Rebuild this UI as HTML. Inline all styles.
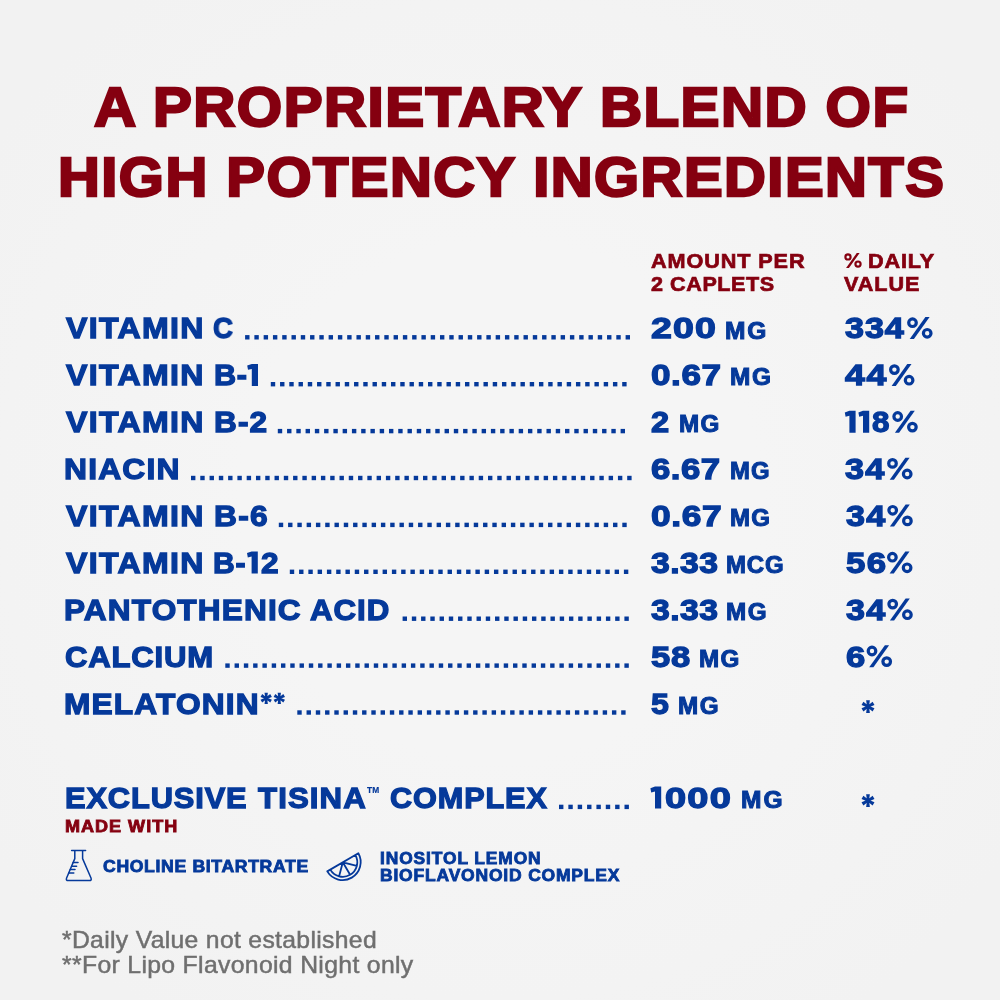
<!DOCTYPE html>
<html><head><meta charset="utf-8"><style>
html,body{margin:0;padding:0;}
body{width:1000px;height:1000px;overflow:hidden;position:relative;background:#f2f2f2 radial-gradient(circle at 500px 500px,#f5f5f5 0px,#f5f5f5 260px,#f2f2f2 620px);font-family:"Liberation Sans",sans-serif;}
.t{position:absolute;white-space:nowrap;line-height:1;transform-origin:0 0;will-change:transform;}
.mk{display:inline-block;width:0;height:0;}
svg{position:absolute;left:0;top:0;}
</style></head><body>
<div class="t" style="left:94.00px;top:79.21px;font-size:56.09px;color:#850010;font-weight:700;letter-spacing:1.374px;transform:scaleX(1.0398);-webkit-text-stroke:2.41px #850010">A PROPRIETARY BLEND OF</div>
<div class="t" style="left:57.92px;top:149.51px;font-size:55.68px;color:#850010;font-weight:700;letter-spacing:1.399px;transform:scaleX(1.0411);-webkit-text-stroke:2.39px #850010">HIGH POTENCY INGREDIENTS</div>
<div class="t" style="left:651.00px;top:250.96px;font-size:20.47px;color:#850010;font-weight:700;letter-spacing:0.840px;transform:scaleX(1.0586);-webkit-text-stroke:0.72px #850010">AMOUNT PER</div>
<div class="t" style="left:651.00px;top:273.64px;font-size:20.75px;color:#850010;font-weight:700;letter-spacing:0.541px;transform:scaleX(1.0395);-webkit-text-stroke:0.73px #850010">2 CAPLETS</div>
<div class="t" style="left:868.34px;top:250.64px;font-size:20.75px;color:#850010;font-weight:700;letter-spacing:0.804px;transform:scaleX(1.0418);-webkit-text-stroke:0.73px #850010">DAILY</div>
<div class="t" style="left:843.96px;top:273.96px;font-size:20.47px;color:#850010;font-weight:700;letter-spacing:0.889px;transform:scaleX(1.0554);-webkit-text-stroke:0.72px #850010">VALUE</div>
<div class="t" style="left:65.90px;top:313.35px;font-size:30.10px;color:#05399a;font-weight:700;letter-spacing:1.236px;transform:scaleX(1.0653);-webkit-text-stroke:1.29px #05399a">VITAMIN</div>
<div class="t" style="left:213.26px;top:313.35px;font-size:30.10px;color:#05399a;font-weight:700;letter-spacing:-0.830px;transform:scaleX(0.9204);-webkit-text-stroke:1.29px #05399a">C</div>
<div class="t" style="left:650.86px;top:313.35px;font-size:30.10px;color:#05399a;font-weight:700;letter-spacing:0.872px;transform:scaleX(1.2469);-webkit-text-stroke:1.29px #05399a">200</div>
<div class="t" style="left:724.91px;top:319.50px;font-size:23.26px;color:#05399a;font-weight:700;letter-spacing:1.850px;transform:scaleX(1.0545);-webkit-text-stroke:1.00px #05399a">MG</div>
<div class="t" style="left:845.43px;top:313.35px;font-size:30.10px;color:#05399a;font-weight:700;letter-spacing:0.766px;transform:scaleX(1.1368);-webkit-text-stroke:1.29px #05399a">334</div>
<div class="t" style="left:65.90px;top:360.26px;font-size:30.10px;color:#05399a;font-weight:700;letter-spacing:1.236px;transform:scaleX(1.0653);-webkit-text-stroke:1.29px #05399a">VITAMIN</div>
<div class="t" style="left:213.79px;top:360.26px;font-size:30.10px;color:#05399a;font-weight:700;letter-spacing:0.540px;transform:scaleX(1.0188);-webkit-text-stroke:1.29px #05399a">B-</div>
<div class="t" style="left:650.91px;top:360.26px;font-size:30.10px;color:#05399a;font-weight:700;letter-spacing:0.485px;transform:scaleX(1.1659);-webkit-text-stroke:1.29px #05399a">0.67</div>
<div class="t" style="left:730.36px;top:366.41px;font-size:23.26px;color:#05399a;font-weight:700;letter-spacing:1.669px;transform:scaleX(1.0495);-webkit-text-stroke:1.00px #05399a">MG</div>
<div class="t" style="left:845.00px;top:360.26px;font-size:30.10px;color:#05399a;font-weight:700;letter-spacing:1.318px;transform:scaleX(1.1841);-webkit-text-stroke:1.29px #05399a">44</div>
<div class="t" style="left:65.90px;top:407.16px;font-size:30.10px;color:#05399a;font-weight:700;letter-spacing:1.236px;transform:scaleX(1.0653);-webkit-text-stroke:1.29px #05399a">VITAMIN</div>
<div class="t" style="left:213.79px;top:407.16px;font-size:30.10px;color:#05399a;font-weight:700;letter-spacing:1.096px;transform:scaleX(1.0494);-webkit-text-stroke:1.29px #05399a">B-2</div>
<div class="t" style="left:651.00px;top:407.16px;font-size:30.10px;color:#05399a;font-weight:700;letter-spacing:0.208px;transform:scaleX(1.0841);-webkit-text-stroke:1.29px #05399a">2</div>
<div class="t" style="left:678.96px;top:413.30px;font-size:23.26px;color:#05399a;font-weight:700;letter-spacing:1.394px;transform:scaleX(1.0406);-webkit-text-stroke:1.00px #05399a">MG</div>
<div class="t" style="left:872.39px;top:407.16px;font-size:30.10px;color:#05399a;font-weight:700;letter-spacing:0.050px;transform:scaleX(1.0407);-webkit-text-stroke:1.29px #05399a">8</div>
<div class="t" style="left:63.76px;top:454.06px;font-size:30.10px;color:#05399a;font-weight:700;letter-spacing:1.115px;transform:scaleX(1.0579);-webkit-text-stroke:1.29px #05399a">NIACIN</div>
<div class="t" style="left:650.94px;top:454.06px;font-size:30.10px;color:#05399a;font-weight:700;letter-spacing:0.455px;transform:scaleX(1.1542);-webkit-text-stroke:1.29px #05399a">6.67</div>
<div class="t" style="left:729.58px;top:460.20px;font-size:23.26px;color:#05399a;font-weight:700;letter-spacing:0.973px;transform:scaleX(1.0278);-webkit-text-stroke:1.00px #05399a">MG</div>
<div class="t" style="left:845.00px;top:454.06px;font-size:30.10px;color:#05399a;font-weight:700;letter-spacing:1.036px;transform:scaleX(1.1391);-webkit-text-stroke:1.29px #05399a">34</div>
<div class="t" style="left:65.90px;top:500.96px;font-size:30.10px;color:#05399a;font-weight:700;letter-spacing:1.236px;transform:scaleX(1.0653);-webkit-text-stroke:1.29px #05399a">VITAMIN</div>
<div class="t" style="left:213.76px;top:500.96px;font-size:30.10px;color:#05399a;font-weight:700;letter-spacing:1.232px;transform:scaleX(1.0556);-webkit-text-stroke:1.29px #05399a">B-6</div>
<div class="t" style="left:650.92px;top:500.96px;font-size:30.10px;color:#05399a;font-weight:700;letter-spacing:0.507px;transform:scaleX(1.1745);-webkit-text-stroke:1.29px #05399a">0.67</div>
<div class="t" style="left:730.38px;top:507.11px;font-size:23.26px;color:#05399a;font-weight:700;letter-spacing:1.161px;transform:scaleX(1.0342);-webkit-text-stroke:1.00px #05399a">MG</div>
<div class="t" style="left:845.85px;top:500.96px;font-size:30.10px;color:#05399a;font-weight:700;letter-spacing:1.005px;transform:scaleX(1.1349);-webkit-text-stroke:1.29px #05399a">34</div>
<div class="t" style="left:65.90px;top:547.85px;font-size:30.10px;color:#05399a;font-weight:700;letter-spacing:1.236px;transform:scaleX(1.0653);-webkit-text-stroke:1.29px #05399a">VITAMIN</div>
<div class="t" style="left:213.40px;top:547.85px;font-size:30.10px;color:#05399a;font-weight:700;letter-spacing:0.684px;transform:scaleX(0.9926);-webkit-text-stroke:1.29px #05399a">B-</div>
<div class="t" style="left:260.59px;top:547.85px;font-size:30.10px;color:#05399a;font-weight:700;letter-spacing:0.716px;transform:scaleX(1.0512);-webkit-text-stroke:1.29px #05399a">2</div>
<div class="t" style="left:650.94px;top:547.85px;font-size:30.10px;color:#05399a;font-weight:700;letter-spacing:0.370px;transform:scaleX(1.1219);-webkit-text-stroke:1.29px #05399a">3.33</div>
<div class="t" style="left:726.15px;top:554.00px;font-size:23.26px;color:#05399a;font-weight:700;letter-spacing:0.824px;transform:scaleX(1.0325);-webkit-text-stroke:1.00px #05399a">MCG</div>
<div class="t" style="left:845.87px;top:547.85px;font-size:30.10px;color:#05399a;font-weight:700;letter-spacing:1.108px;transform:scaleX(1.1560);-webkit-text-stroke:1.29px #05399a">56</div>
<div class="t" style="left:63.77px;top:594.76px;font-size:30.10px;color:#05399a;font-weight:700;letter-spacing:1.091px;transform:scaleX(1.0495);-webkit-text-stroke:1.29px #05399a">PANTOTHENIC</div>
<div class="t" style="left:310.19px;top:594.76px;font-size:30.10px;color:#05399a;font-weight:700;letter-spacing:0.914px;transform:scaleX(1.0392);-webkit-text-stroke:1.29px #05399a">ACID</div>
<div class="t" style="left:650.94px;top:594.76px;font-size:30.10px;color:#05399a;font-weight:700;letter-spacing:0.370px;transform:scaleX(1.1219);-webkit-text-stroke:1.29px #05399a">3.33</div>
<div class="t" style="left:726.13px;top:600.91px;font-size:23.26px;color:#05399a;font-weight:700;letter-spacing:1.486px;transform:scaleX(1.0434);-webkit-text-stroke:1.00px #05399a">MG</div>
<div class="t" style="left:845.85px;top:594.76px;font-size:30.10px;color:#05399a;font-weight:700;letter-spacing:1.005px;transform:scaleX(1.1349);-webkit-text-stroke:1.29px #05399a">34</div>
<div class="t" style="left:64.81px;top:641.66px;font-size:30.10px;color:#05399a;font-weight:700;letter-spacing:0.750px;transform:scaleX(1.0337);-webkit-text-stroke:1.29px #05399a">CALCIUM</div>
<div class="t" style="left:650.93px;top:641.66px;font-size:30.10px;color:#05399a;font-weight:700;letter-spacing:0.746px;transform:scaleX(1.1476);-webkit-text-stroke:1.29px #05399a">58</div>
<div class="t" style="left:698.93px;top:647.80px;font-size:23.26px;color:#05399a;font-weight:700;letter-spacing:1.394px;transform:scaleX(1.0406);-webkit-text-stroke:1.00px #05399a">MG</div>
<div class="t" style="left:845.86px;top:641.66px;font-size:30.10px;color:#05399a;font-weight:700;letter-spacing:0.522px;transform:scaleX(1.1500);-webkit-text-stroke:1.29px #05399a">6</div>
<div class="t" style="left:63.77px;top:688.56px;font-size:30.10px;color:#05399a;font-weight:700;letter-spacing:1.098px;transform:scaleX(1.0532);-webkit-text-stroke:1.29px #05399a">MELATONIN</div>
<div class="t" style="left:650.95px;top:688.56px;font-size:30.10px;color:#05399a;font-weight:700;letter-spacing:0.183px;transform:scaleX(1.0683);-webkit-text-stroke:1.29px #05399a">5</div>
<div class="t" style="left:678.13px;top:694.70px;font-size:23.26px;color:#05399a;font-weight:700;letter-spacing:1.486px;transform:scaleX(1.0434);-webkit-text-stroke:1.00px #05399a">MG</div>
<div class="t" style="left:64.78px;top:782.97px;font-size:29.55px;color:#05399a;font-weight:700;letter-spacing:0.845px;transform:scaleX(1.0425);-webkit-text-stroke:1.27px #05399a">EXCLUSIVE</div>
<div class="t" style="left:258.23px;top:782.97px;font-size:29.55px;color:#05399a;font-weight:700;letter-spacing:1.033px;transform:scaleX(1.0557);-webkit-text-stroke:1.27px #05399a">TISINA</div>
<div class="t" style="left:366.58px;top:786.93px;font-size:8.19px;color:#05399a;font-weight:700;letter-spacing:0.197px;transform:scaleX(1.0246);-webkit-text-stroke:0.16px #05399a">TM</div>
<div class="t" style="left:390.40px;top:782.97px;font-size:29.55px;color:#05399a;font-weight:700;letter-spacing:0.868px;transform:scaleX(1.0368);-webkit-text-stroke:1.27px #05399a">COMPLEX</div>
<div class="t" style="left:665.00px;top:782.96px;font-size:30.10px;color:#05399a;font-weight:700;letter-spacing:0.920px;transform:scaleX(1.2639);-webkit-text-stroke:1.29px #05399a">000</div>
<div class="t" style="left:740.94px;top:789.11px;font-size:23.26px;color:#05399a;font-weight:700;letter-spacing:1.895px;transform:scaleX(1.0556);-webkit-text-stroke:1.00px #05399a">MG</div>
<div class="t" style="left:64.73px;top:818.20px;font-size:16.26px;color:#850010;font-weight:700;letter-spacing:0.890px;transform:scaleX(1.1111);-webkit-text-stroke:0.81px #850010">MADE WITH</div>
<div class="t" style="left:103.00px;top:857.60px;font-size:16.26px;color:#05399a;font-weight:700;letter-spacing:0.597px;transform:scaleX(1.0849);-webkit-text-stroke:0.81px #05399a">CHOLINE BITARTRATE</div>
<div class="t" style="left:379.50px;top:851.22px;font-size:15.72px;color:#05399a;font-weight:700;letter-spacing:0.816px;transform:scaleX(1.1047);-webkit-text-stroke:0.79px #05399a">INOSITOL LEMON</div>
<div class="t" style="left:379.52px;top:868.41px;font-size:15.99px;color:#05399a;font-weight:700;letter-spacing:0.737px;transform:scaleX(1.0942);-webkit-text-stroke:0.80px #05399a">BIOFLAVONOID COMPLEX</div>
<div class="t" style="left:61.81px;top:927.56px;font-size:24.01px;color:#6f6f6f;font-weight:400;letter-spacing:0.315px;transform:scaleX(1.0296);-webkit-text-stroke:0.48px #6f6f6f">*Daily Value not established</div>
<div class="t" style="left:61.81px;top:952.76px;font-size:24.01px;color:#6f6f6f;font-weight:400;letter-spacing:0.330px;transform:scaleX(1.0308);-webkit-text-stroke:0.48px #6f6f6f">**For Lipo Flavonoid Night only</div>
<svg width="1000" height="1000" viewBox="0 0 1000 1000" style="position:absolute;left:0;top:0">
<rect x="245.10" y="335.10" width="4.4" height="4.4" fill="#05399a"/>
<rect x="254.38" y="335.10" width="4.4" height="4.4" fill="#05399a"/>
<rect x="263.66" y="335.10" width="4.4" height="4.4" fill="#05399a"/>
<rect x="272.94" y="335.10" width="4.4" height="4.4" fill="#05399a"/>
<rect x="282.22" y="335.10" width="4.4" height="4.4" fill="#05399a"/>
<rect x="291.50" y="335.10" width="4.4" height="4.4" fill="#05399a"/>
<rect x="300.78" y="335.10" width="4.4" height="4.4" fill="#05399a"/>
<rect x="310.06" y="335.10" width="4.4" height="4.4" fill="#05399a"/>
<rect x="319.34" y="335.10" width="4.4" height="4.4" fill="#05399a"/>
<rect x="328.62" y="335.10" width="4.4" height="4.4" fill="#05399a"/>
<rect x="337.90" y="335.10" width="4.4" height="4.4" fill="#05399a"/>
<rect x="347.19" y="335.10" width="4.4" height="4.4" fill="#05399a"/>
<rect x="356.47" y="335.10" width="4.4" height="4.4" fill="#05399a"/>
<rect x="365.75" y="335.10" width="4.4" height="4.4" fill="#05399a"/>
<rect x="375.03" y="335.10" width="4.4" height="4.4" fill="#05399a"/>
<rect x="384.31" y="335.10" width="4.4" height="4.4" fill="#05399a"/>
<rect x="393.59" y="335.10" width="4.4" height="4.4" fill="#05399a"/>
<rect x="402.87" y="335.10" width="4.4" height="4.4" fill="#05399a"/>
<rect x="412.15" y="335.10" width="4.4" height="4.4" fill="#05399a"/>
<rect x="421.43" y="335.10" width="4.4" height="4.4" fill="#05399a"/>
<rect x="430.71" y="335.10" width="4.4" height="4.4" fill="#05399a"/>
<rect x="439.99" y="335.10" width="4.4" height="4.4" fill="#05399a"/>
<rect x="449.27" y="335.10" width="4.4" height="4.4" fill="#05399a"/>
<rect x="458.55" y="335.10" width="4.4" height="4.4" fill="#05399a"/>
<rect x="467.83" y="335.10" width="4.4" height="4.4" fill="#05399a"/>
<rect x="477.11" y="335.10" width="4.4" height="4.4" fill="#05399a"/>
<rect x="486.39" y="335.10" width="4.4" height="4.4" fill="#05399a"/>
<rect x="495.67" y="335.10" width="4.4" height="4.4" fill="#05399a"/>
<rect x="504.95" y="335.10" width="4.4" height="4.4" fill="#05399a"/>
<rect x="514.23" y="335.10" width="4.4" height="4.4" fill="#05399a"/>
<rect x="523.51" y="335.10" width="4.4" height="4.4" fill="#05399a"/>
<rect x="532.80" y="335.10" width="4.4" height="4.4" fill="#05399a"/>
<rect x="542.08" y="335.10" width="4.4" height="4.4" fill="#05399a"/>
<rect x="551.36" y="335.10" width="4.4" height="4.4" fill="#05399a"/>
<rect x="560.64" y="335.10" width="4.4" height="4.4" fill="#05399a"/>
<rect x="569.92" y="335.10" width="4.4" height="4.4" fill="#05399a"/>
<rect x="579.20" y="335.10" width="4.4" height="4.4" fill="#05399a"/>
<rect x="588.48" y="335.10" width="4.4" height="4.4" fill="#05399a"/>
<rect x="597.76" y="335.10" width="4.4" height="4.4" fill="#05399a"/>
<rect x="607.04" y="335.10" width="4.4" height="4.4" fill="#05399a"/>
<rect x="616.32" y="335.10" width="4.4" height="4.4" fill="#05399a"/>
<rect x="625.60" y="335.10" width="4.4" height="4.4" fill="#05399a"/>
<rect x="270.80" y="382.00" width="4.4" height="4.4" fill="#05399a"/>
<rect x="280.05" y="382.00" width="4.4" height="4.4" fill="#05399a"/>
<rect x="289.29" y="382.00" width="4.4" height="4.4" fill="#05399a"/>
<rect x="298.54" y="382.00" width="4.4" height="4.4" fill="#05399a"/>
<rect x="307.79" y="382.00" width="4.4" height="4.4" fill="#05399a"/>
<rect x="317.04" y="382.00" width="4.4" height="4.4" fill="#05399a"/>
<rect x="326.28" y="382.00" width="4.4" height="4.4" fill="#05399a"/>
<rect x="335.53" y="382.00" width="4.4" height="4.4" fill="#05399a"/>
<rect x="344.78" y="382.00" width="4.4" height="4.4" fill="#05399a"/>
<rect x="354.03" y="382.00" width="4.4" height="4.4" fill="#05399a"/>
<rect x="363.27" y="382.00" width="4.4" height="4.4" fill="#05399a"/>
<rect x="372.52" y="382.00" width="4.4" height="4.4" fill="#05399a"/>
<rect x="381.77" y="382.00" width="4.4" height="4.4" fill="#05399a"/>
<rect x="391.02" y="382.00" width="4.4" height="4.4" fill="#05399a"/>
<rect x="400.26" y="382.00" width="4.4" height="4.4" fill="#05399a"/>
<rect x="409.51" y="382.00" width="4.4" height="4.4" fill="#05399a"/>
<rect x="418.76" y="382.00" width="4.4" height="4.4" fill="#05399a"/>
<rect x="428.01" y="382.00" width="4.4" height="4.4" fill="#05399a"/>
<rect x="437.25" y="382.00" width="4.4" height="4.4" fill="#05399a"/>
<rect x="446.50" y="382.00" width="4.4" height="4.4" fill="#05399a"/>
<rect x="455.75" y="382.00" width="4.4" height="4.4" fill="#05399a"/>
<rect x="464.99" y="382.00" width="4.4" height="4.4" fill="#05399a"/>
<rect x="474.24" y="382.00" width="4.4" height="4.4" fill="#05399a"/>
<rect x="483.49" y="382.00" width="4.4" height="4.4" fill="#05399a"/>
<rect x="492.74" y="382.00" width="4.4" height="4.4" fill="#05399a"/>
<rect x="501.98" y="382.00" width="4.4" height="4.4" fill="#05399a"/>
<rect x="511.23" y="382.00" width="4.4" height="4.4" fill="#05399a"/>
<rect x="520.48" y="382.00" width="4.4" height="4.4" fill="#05399a"/>
<rect x="529.73" y="382.00" width="4.4" height="4.4" fill="#05399a"/>
<rect x="538.97" y="382.00" width="4.4" height="4.4" fill="#05399a"/>
<rect x="548.22" y="382.00" width="4.4" height="4.4" fill="#05399a"/>
<rect x="557.47" y="382.00" width="4.4" height="4.4" fill="#05399a"/>
<rect x="566.72" y="382.00" width="4.4" height="4.4" fill="#05399a"/>
<rect x="575.96" y="382.00" width="4.4" height="4.4" fill="#05399a"/>
<rect x="585.21" y="382.00" width="4.4" height="4.4" fill="#05399a"/>
<rect x="594.46" y="382.00" width="4.4" height="4.4" fill="#05399a"/>
<rect x="603.71" y="382.00" width="4.4" height="4.4" fill="#05399a"/>
<rect x="612.95" y="382.00" width="4.4" height="4.4" fill="#05399a"/>
<rect x="622.20" y="382.00" width="4.4" height="4.4" fill="#05399a"/>
<rect x="277.80" y="428.90" width="4.4" height="4.4" fill="#05399a"/>
<rect x="287.06" y="428.90" width="4.4" height="4.4" fill="#05399a"/>
<rect x="296.33" y="428.90" width="4.4" height="4.4" fill="#05399a"/>
<rect x="305.59" y="428.90" width="4.4" height="4.4" fill="#05399a"/>
<rect x="314.86" y="428.90" width="4.4" height="4.4" fill="#05399a"/>
<rect x="324.12" y="428.90" width="4.4" height="4.4" fill="#05399a"/>
<rect x="333.39" y="428.90" width="4.4" height="4.4" fill="#05399a"/>
<rect x="342.65" y="428.90" width="4.4" height="4.4" fill="#05399a"/>
<rect x="351.92" y="428.90" width="4.4" height="4.4" fill="#05399a"/>
<rect x="361.18" y="428.90" width="4.4" height="4.4" fill="#05399a"/>
<rect x="370.45" y="428.90" width="4.4" height="4.4" fill="#05399a"/>
<rect x="379.71" y="428.90" width="4.4" height="4.4" fill="#05399a"/>
<rect x="388.98" y="428.90" width="4.4" height="4.4" fill="#05399a"/>
<rect x="398.24" y="428.90" width="4.4" height="4.4" fill="#05399a"/>
<rect x="407.51" y="428.90" width="4.4" height="4.4" fill="#05399a"/>
<rect x="416.77" y="428.90" width="4.4" height="4.4" fill="#05399a"/>
<rect x="426.04" y="428.90" width="4.4" height="4.4" fill="#05399a"/>
<rect x="435.30" y="428.90" width="4.4" height="4.4" fill="#05399a"/>
<rect x="444.57" y="428.90" width="4.4" height="4.4" fill="#05399a"/>
<rect x="453.83" y="428.90" width="4.4" height="4.4" fill="#05399a"/>
<rect x="463.10" y="428.90" width="4.4" height="4.4" fill="#05399a"/>
<rect x="472.36" y="428.90" width="4.4" height="4.4" fill="#05399a"/>
<rect x="481.63" y="428.90" width="4.4" height="4.4" fill="#05399a"/>
<rect x="490.89" y="428.90" width="4.4" height="4.4" fill="#05399a"/>
<rect x="500.16" y="428.90" width="4.4" height="4.4" fill="#05399a"/>
<rect x="509.42" y="428.90" width="4.4" height="4.4" fill="#05399a"/>
<rect x="518.69" y="428.90" width="4.4" height="4.4" fill="#05399a"/>
<rect x="527.95" y="428.90" width="4.4" height="4.4" fill="#05399a"/>
<rect x="537.22" y="428.90" width="4.4" height="4.4" fill="#05399a"/>
<rect x="546.48" y="428.90" width="4.4" height="4.4" fill="#05399a"/>
<rect x="555.75" y="428.90" width="4.4" height="4.4" fill="#05399a"/>
<rect x="565.01" y="428.90" width="4.4" height="4.4" fill="#05399a"/>
<rect x="574.28" y="428.90" width="4.4" height="4.4" fill="#05399a"/>
<rect x="583.54" y="428.90" width="4.4" height="4.4" fill="#05399a"/>
<rect x="592.81" y="428.90" width="4.4" height="4.4" fill="#05399a"/>
<rect x="602.07" y="428.90" width="4.4" height="4.4" fill="#05399a"/>
<rect x="611.34" y="428.90" width="4.4" height="4.4" fill="#05399a"/>
<rect x="620.60" y="428.90" width="4.4" height="4.4" fill="#05399a"/>
<rect x="191.00" y="475.80" width="4.4" height="4.4" fill="#05399a"/>
<rect x="200.28" y="475.80" width="4.4" height="4.4" fill="#05399a"/>
<rect x="209.56" y="475.80" width="4.4" height="4.4" fill="#05399a"/>
<rect x="218.84" y="475.80" width="4.4" height="4.4" fill="#05399a"/>
<rect x="228.12" y="475.80" width="4.4" height="4.4" fill="#05399a"/>
<rect x="237.40" y="475.80" width="4.4" height="4.4" fill="#05399a"/>
<rect x="246.69" y="475.80" width="4.4" height="4.4" fill="#05399a"/>
<rect x="255.97" y="475.80" width="4.4" height="4.4" fill="#05399a"/>
<rect x="265.25" y="475.80" width="4.4" height="4.4" fill="#05399a"/>
<rect x="274.53" y="475.80" width="4.4" height="4.4" fill="#05399a"/>
<rect x="283.81" y="475.80" width="4.4" height="4.4" fill="#05399a"/>
<rect x="293.09" y="475.80" width="4.4" height="4.4" fill="#05399a"/>
<rect x="302.37" y="475.80" width="4.4" height="4.4" fill="#05399a"/>
<rect x="311.65" y="475.80" width="4.4" height="4.4" fill="#05399a"/>
<rect x="320.93" y="475.80" width="4.4" height="4.4" fill="#05399a"/>
<rect x="330.21" y="475.80" width="4.4" height="4.4" fill="#05399a"/>
<rect x="339.49" y="475.80" width="4.4" height="4.4" fill="#05399a"/>
<rect x="348.77" y="475.80" width="4.4" height="4.4" fill="#05399a"/>
<rect x="358.06" y="475.80" width="4.4" height="4.4" fill="#05399a"/>
<rect x="367.34" y="475.80" width="4.4" height="4.4" fill="#05399a"/>
<rect x="376.62" y="475.80" width="4.4" height="4.4" fill="#05399a"/>
<rect x="385.90" y="475.80" width="4.4" height="4.4" fill="#05399a"/>
<rect x="395.18" y="475.80" width="4.4" height="4.4" fill="#05399a"/>
<rect x="404.46" y="475.80" width="4.4" height="4.4" fill="#05399a"/>
<rect x="413.74" y="475.80" width="4.4" height="4.4" fill="#05399a"/>
<rect x="423.02" y="475.80" width="4.4" height="4.4" fill="#05399a"/>
<rect x="432.30" y="475.80" width="4.4" height="4.4" fill="#05399a"/>
<rect x="441.58" y="475.80" width="4.4" height="4.4" fill="#05399a"/>
<rect x="450.86" y="475.80" width="4.4" height="4.4" fill="#05399a"/>
<rect x="460.14" y="475.80" width="4.4" height="4.4" fill="#05399a"/>
<rect x="469.43" y="475.80" width="4.4" height="4.4" fill="#05399a"/>
<rect x="478.71" y="475.80" width="4.4" height="4.4" fill="#05399a"/>
<rect x="487.99" y="475.80" width="4.4" height="4.4" fill="#05399a"/>
<rect x="497.27" y="475.80" width="4.4" height="4.4" fill="#05399a"/>
<rect x="506.55" y="475.80" width="4.4" height="4.4" fill="#05399a"/>
<rect x="515.83" y="475.80" width="4.4" height="4.4" fill="#05399a"/>
<rect x="525.11" y="475.80" width="4.4" height="4.4" fill="#05399a"/>
<rect x="534.39" y="475.80" width="4.4" height="4.4" fill="#05399a"/>
<rect x="543.67" y="475.80" width="4.4" height="4.4" fill="#05399a"/>
<rect x="552.95" y="475.80" width="4.4" height="4.4" fill="#05399a"/>
<rect x="562.23" y="475.80" width="4.4" height="4.4" fill="#05399a"/>
<rect x="571.51" y="475.80" width="4.4" height="4.4" fill="#05399a"/>
<rect x="580.80" y="475.80" width="4.4" height="4.4" fill="#05399a"/>
<rect x="590.08" y="475.80" width="4.4" height="4.4" fill="#05399a"/>
<rect x="599.36" y="475.80" width="4.4" height="4.4" fill="#05399a"/>
<rect x="608.64" y="475.80" width="4.4" height="4.4" fill="#05399a"/>
<rect x="617.92" y="475.80" width="4.4" height="4.4" fill="#05399a"/>
<rect x="627.20" y="475.80" width="4.4" height="4.4" fill="#05399a"/>
<rect x="278.80" y="522.70" width="4.4" height="4.4" fill="#05399a"/>
<rect x="288.08" y="522.70" width="4.4" height="4.4" fill="#05399a"/>
<rect x="297.37" y="522.70" width="4.4" height="4.4" fill="#05399a"/>
<rect x="306.65" y="522.70" width="4.4" height="4.4" fill="#05399a"/>
<rect x="315.94" y="522.70" width="4.4" height="4.4" fill="#05399a"/>
<rect x="325.22" y="522.70" width="4.4" height="4.4" fill="#05399a"/>
<rect x="334.50" y="522.70" width="4.4" height="4.4" fill="#05399a"/>
<rect x="343.79" y="522.70" width="4.4" height="4.4" fill="#05399a"/>
<rect x="353.07" y="522.70" width="4.4" height="4.4" fill="#05399a"/>
<rect x="362.35" y="522.70" width="4.4" height="4.4" fill="#05399a"/>
<rect x="371.64" y="522.70" width="4.4" height="4.4" fill="#05399a"/>
<rect x="380.92" y="522.70" width="4.4" height="4.4" fill="#05399a"/>
<rect x="390.21" y="522.70" width="4.4" height="4.4" fill="#05399a"/>
<rect x="399.49" y="522.70" width="4.4" height="4.4" fill="#05399a"/>
<rect x="408.77" y="522.70" width="4.4" height="4.4" fill="#05399a"/>
<rect x="418.06" y="522.70" width="4.4" height="4.4" fill="#05399a"/>
<rect x="427.34" y="522.70" width="4.4" height="4.4" fill="#05399a"/>
<rect x="436.62" y="522.70" width="4.4" height="4.4" fill="#05399a"/>
<rect x="445.91" y="522.70" width="4.4" height="4.4" fill="#05399a"/>
<rect x="455.19" y="522.70" width="4.4" height="4.4" fill="#05399a"/>
<rect x="464.48" y="522.70" width="4.4" height="4.4" fill="#05399a"/>
<rect x="473.76" y="522.70" width="4.4" height="4.4" fill="#05399a"/>
<rect x="483.04" y="522.70" width="4.4" height="4.4" fill="#05399a"/>
<rect x="492.33" y="522.70" width="4.4" height="4.4" fill="#05399a"/>
<rect x="501.61" y="522.70" width="4.4" height="4.4" fill="#05399a"/>
<rect x="510.89" y="522.70" width="4.4" height="4.4" fill="#05399a"/>
<rect x="520.18" y="522.70" width="4.4" height="4.4" fill="#05399a"/>
<rect x="529.46" y="522.70" width="4.4" height="4.4" fill="#05399a"/>
<rect x="538.75" y="522.70" width="4.4" height="4.4" fill="#05399a"/>
<rect x="548.03" y="522.70" width="4.4" height="4.4" fill="#05399a"/>
<rect x="557.31" y="522.70" width="4.4" height="4.4" fill="#05399a"/>
<rect x="566.60" y="522.70" width="4.4" height="4.4" fill="#05399a"/>
<rect x="575.88" y="522.70" width="4.4" height="4.4" fill="#05399a"/>
<rect x="585.16" y="522.70" width="4.4" height="4.4" fill="#05399a"/>
<rect x="594.45" y="522.70" width="4.4" height="4.4" fill="#05399a"/>
<rect x="603.73" y="522.70" width="4.4" height="4.4" fill="#05399a"/>
<rect x="613.02" y="522.70" width="4.4" height="4.4" fill="#05399a"/>
<rect x="622.30" y="522.70" width="4.4" height="4.4" fill="#05399a"/>
<rect x="289.80" y="569.60" width="4.4" height="4.4" fill="#05399a"/>
<rect x="299.08" y="569.60" width="4.4" height="4.4" fill="#05399a"/>
<rect x="308.36" y="569.60" width="4.4" height="4.4" fill="#05399a"/>
<rect x="317.64" y="569.60" width="4.4" height="4.4" fill="#05399a"/>
<rect x="326.92" y="569.60" width="4.4" height="4.4" fill="#05399a"/>
<rect x="336.20" y="569.60" width="4.4" height="4.4" fill="#05399a"/>
<rect x="345.48" y="569.60" width="4.4" height="4.4" fill="#05399a"/>
<rect x="354.76" y="569.60" width="4.4" height="4.4" fill="#05399a"/>
<rect x="364.04" y="569.60" width="4.4" height="4.4" fill="#05399a"/>
<rect x="373.33" y="569.60" width="4.4" height="4.4" fill="#05399a"/>
<rect x="382.61" y="569.60" width="4.4" height="4.4" fill="#05399a"/>
<rect x="391.89" y="569.60" width="4.4" height="4.4" fill="#05399a"/>
<rect x="401.17" y="569.60" width="4.4" height="4.4" fill="#05399a"/>
<rect x="410.45" y="569.60" width="4.4" height="4.4" fill="#05399a"/>
<rect x="419.73" y="569.60" width="4.4" height="4.4" fill="#05399a"/>
<rect x="429.01" y="569.60" width="4.4" height="4.4" fill="#05399a"/>
<rect x="438.29" y="569.60" width="4.4" height="4.4" fill="#05399a"/>
<rect x="447.57" y="569.60" width="4.4" height="4.4" fill="#05399a"/>
<rect x="456.85" y="569.60" width="4.4" height="4.4" fill="#05399a"/>
<rect x="466.13" y="569.60" width="4.4" height="4.4" fill="#05399a"/>
<rect x="475.41" y="569.60" width="4.4" height="4.4" fill="#05399a"/>
<rect x="484.69" y="569.60" width="4.4" height="4.4" fill="#05399a"/>
<rect x="493.97" y="569.60" width="4.4" height="4.4" fill="#05399a"/>
<rect x="503.25" y="569.60" width="4.4" height="4.4" fill="#05399a"/>
<rect x="512.53" y="569.60" width="4.4" height="4.4" fill="#05399a"/>
<rect x="521.81" y="569.60" width="4.4" height="4.4" fill="#05399a"/>
<rect x="531.09" y="569.60" width="4.4" height="4.4" fill="#05399a"/>
<rect x="540.38" y="569.60" width="4.4" height="4.4" fill="#05399a"/>
<rect x="549.66" y="569.60" width="4.4" height="4.4" fill="#05399a"/>
<rect x="558.94" y="569.60" width="4.4" height="4.4" fill="#05399a"/>
<rect x="568.22" y="569.60" width="4.4" height="4.4" fill="#05399a"/>
<rect x="577.50" y="569.60" width="4.4" height="4.4" fill="#05399a"/>
<rect x="586.78" y="569.60" width="4.4" height="4.4" fill="#05399a"/>
<rect x="596.06" y="569.60" width="4.4" height="4.4" fill="#05399a"/>
<rect x="605.34" y="569.60" width="4.4" height="4.4" fill="#05399a"/>
<rect x="614.62" y="569.60" width="4.4" height="4.4" fill="#05399a"/>
<rect x="623.90" y="569.60" width="4.4" height="4.4" fill="#05399a"/>
<rect x="402.60" y="616.50" width="4.4" height="4.4" fill="#05399a"/>
<rect x="411.84" y="616.50" width="4.4" height="4.4" fill="#05399a"/>
<rect x="421.08" y="616.50" width="4.4" height="4.4" fill="#05399a"/>
<rect x="430.33" y="616.50" width="4.4" height="4.4" fill="#05399a"/>
<rect x="439.57" y="616.50" width="4.4" height="4.4" fill="#05399a"/>
<rect x="448.81" y="616.50" width="4.4" height="4.4" fill="#05399a"/>
<rect x="458.05" y="616.50" width="4.4" height="4.4" fill="#05399a"/>
<rect x="467.29" y="616.50" width="4.4" height="4.4" fill="#05399a"/>
<rect x="476.53" y="616.50" width="4.4" height="4.4" fill="#05399a"/>
<rect x="485.78" y="616.50" width="4.4" height="4.4" fill="#05399a"/>
<rect x="495.02" y="616.50" width="4.4" height="4.4" fill="#05399a"/>
<rect x="504.26" y="616.50" width="4.4" height="4.4" fill="#05399a"/>
<rect x="513.50" y="616.50" width="4.4" height="4.4" fill="#05399a"/>
<rect x="522.74" y="616.50" width="4.4" height="4.4" fill="#05399a"/>
<rect x="531.98" y="616.50" width="4.4" height="4.4" fill="#05399a"/>
<rect x="541.23" y="616.50" width="4.4" height="4.4" fill="#05399a"/>
<rect x="550.47" y="616.50" width="4.4" height="4.4" fill="#05399a"/>
<rect x="559.71" y="616.50" width="4.4" height="4.4" fill="#05399a"/>
<rect x="568.95" y="616.50" width="4.4" height="4.4" fill="#05399a"/>
<rect x="578.19" y="616.50" width="4.4" height="4.4" fill="#05399a"/>
<rect x="587.43" y="616.50" width="4.4" height="4.4" fill="#05399a"/>
<rect x="596.68" y="616.50" width="4.4" height="4.4" fill="#05399a"/>
<rect x="605.92" y="616.50" width="4.4" height="4.4" fill="#05399a"/>
<rect x="615.16" y="616.50" width="4.4" height="4.4" fill="#05399a"/>
<rect x="624.40" y="616.50" width="4.4" height="4.4" fill="#05399a"/>
<rect x="225.30" y="663.40" width="4.4" height="4.4" fill="#05399a"/>
<rect x="234.58" y="663.40" width="4.4" height="4.4" fill="#05399a"/>
<rect x="243.86" y="663.40" width="4.4" height="4.4" fill="#05399a"/>
<rect x="253.14" y="663.40" width="4.4" height="4.4" fill="#05399a"/>
<rect x="262.43" y="663.40" width="4.4" height="4.4" fill="#05399a"/>
<rect x="271.71" y="663.40" width="4.4" height="4.4" fill="#05399a"/>
<rect x="280.99" y="663.40" width="4.4" height="4.4" fill="#05399a"/>
<rect x="290.27" y="663.40" width="4.4" height="4.4" fill="#05399a"/>
<rect x="299.55" y="663.40" width="4.4" height="4.4" fill="#05399a"/>
<rect x="308.83" y="663.40" width="4.4" height="4.4" fill="#05399a"/>
<rect x="318.11" y="663.40" width="4.4" height="4.4" fill="#05399a"/>
<rect x="327.40" y="663.40" width="4.4" height="4.4" fill="#05399a"/>
<rect x="336.68" y="663.40" width="4.4" height="4.4" fill="#05399a"/>
<rect x="345.96" y="663.40" width="4.4" height="4.4" fill="#05399a"/>
<rect x="355.24" y="663.40" width="4.4" height="4.4" fill="#05399a"/>
<rect x="364.52" y="663.40" width="4.4" height="4.4" fill="#05399a"/>
<rect x="373.80" y="663.40" width="4.4" height="4.4" fill="#05399a"/>
<rect x="383.08" y="663.40" width="4.4" height="4.4" fill="#05399a"/>
<rect x="392.37" y="663.40" width="4.4" height="4.4" fill="#05399a"/>
<rect x="401.65" y="663.40" width="4.4" height="4.4" fill="#05399a"/>
<rect x="410.93" y="663.40" width="4.4" height="4.4" fill="#05399a"/>
<rect x="420.21" y="663.40" width="4.4" height="4.4" fill="#05399a"/>
<rect x="429.49" y="663.40" width="4.4" height="4.4" fill="#05399a"/>
<rect x="438.77" y="663.40" width="4.4" height="4.4" fill="#05399a"/>
<rect x="448.05" y="663.40" width="4.4" height="4.4" fill="#05399a"/>
<rect x="457.33" y="663.40" width="4.4" height="4.4" fill="#05399a"/>
<rect x="466.62" y="663.40" width="4.4" height="4.4" fill="#05399a"/>
<rect x="475.90" y="663.40" width="4.4" height="4.4" fill="#05399a"/>
<rect x="485.18" y="663.40" width="4.4" height="4.4" fill="#05399a"/>
<rect x="494.46" y="663.40" width="4.4" height="4.4" fill="#05399a"/>
<rect x="503.74" y="663.40" width="4.4" height="4.4" fill="#05399a"/>
<rect x="513.02" y="663.40" width="4.4" height="4.4" fill="#05399a"/>
<rect x="522.30" y="663.40" width="4.4" height="4.4" fill="#05399a"/>
<rect x="531.59" y="663.40" width="4.4" height="4.4" fill="#05399a"/>
<rect x="540.87" y="663.40" width="4.4" height="4.4" fill="#05399a"/>
<rect x="550.15" y="663.40" width="4.4" height="4.4" fill="#05399a"/>
<rect x="559.43" y="663.40" width="4.4" height="4.4" fill="#05399a"/>
<rect x="568.71" y="663.40" width="4.4" height="4.4" fill="#05399a"/>
<rect x="577.99" y="663.40" width="4.4" height="4.4" fill="#05399a"/>
<rect x="587.27" y="663.40" width="4.4" height="4.4" fill="#05399a"/>
<rect x="596.56" y="663.40" width="4.4" height="4.4" fill="#05399a"/>
<rect x="605.84" y="663.40" width="4.4" height="4.4" fill="#05399a"/>
<rect x="615.12" y="663.40" width="4.4" height="4.4" fill="#05399a"/>
<rect x="624.40" y="663.40" width="4.4" height="4.4" fill="#05399a"/>
<rect x="297.30" y="710.30" width="4.4" height="4.4" fill="#05399a"/>
<rect x="306.55" y="710.30" width="4.4" height="4.4" fill="#05399a"/>
<rect x="315.81" y="710.30" width="4.4" height="4.4" fill="#05399a"/>
<rect x="325.06" y="710.30" width="4.4" height="4.4" fill="#05399a"/>
<rect x="334.32" y="710.30" width="4.4" height="4.4" fill="#05399a"/>
<rect x="343.57" y="710.30" width="4.4" height="4.4" fill="#05399a"/>
<rect x="352.83" y="710.30" width="4.4" height="4.4" fill="#05399a"/>
<rect x="362.08" y="710.30" width="4.4" height="4.4" fill="#05399a"/>
<rect x="371.33" y="710.30" width="4.4" height="4.4" fill="#05399a"/>
<rect x="380.59" y="710.30" width="4.4" height="4.4" fill="#05399a"/>
<rect x="389.84" y="710.30" width="4.4" height="4.4" fill="#05399a"/>
<rect x="399.10" y="710.30" width="4.4" height="4.4" fill="#05399a"/>
<rect x="408.35" y="710.30" width="4.4" height="4.4" fill="#05399a"/>
<rect x="417.61" y="710.30" width="4.4" height="4.4" fill="#05399a"/>
<rect x="426.86" y="710.30" width="4.4" height="4.4" fill="#05399a"/>
<rect x="436.11" y="710.30" width="4.4" height="4.4" fill="#05399a"/>
<rect x="445.37" y="710.30" width="4.4" height="4.4" fill="#05399a"/>
<rect x="454.62" y="710.30" width="4.4" height="4.4" fill="#05399a"/>
<rect x="463.88" y="710.30" width="4.4" height="4.4" fill="#05399a"/>
<rect x="473.13" y="710.30" width="4.4" height="4.4" fill="#05399a"/>
<rect x="482.39" y="710.30" width="4.4" height="4.4" fill="#05399a"/>
<rect x="491.64" y="710.30" width="4.4" height="4.4" fill="#05399a"/>
<rect x="500.89" y="710.30" width="4.4" height="4.4" fill="#05399a"/>
<rect x="510.15" y="710.30" width="4.4" height="4.4" fill="#05399a"/>
<rect x="519.40" y="710.30" width="4.4" height="4.4" fill="#05399a"/>
<rect x="528.66" y="710.30" width="4.4" height="4.4" fill="#05399a"/>
<rect x="537.91" y="710.30" width="4.4" height="4.4" fill="#05399a"/>
<rect x="547.17" y="710.30" width="4.4" height="4.4" fill="#05399a"/>
<rect x="556.42" y="710.30" width="4.4" height="4.4" fill="#05399a"/>
<rect x="565.67" y="710.30" width="4.4" height="4.4" fill="#05399a"/>
<rect x="574.93" y="710.30" width="4.4" height="4.4" fill="#05399a"/>
<rect x="584.18" y="710.30" width="4.4" height="4.4" fill="#05399a"/>
<rect x="593.44" y="710.30" width="4.4" height="4.4" fill="#05399a"/>
<rect x="602.69" y="710.30" width="4.4" height="4.4" fill="#05399a"/>
<rect x="611.95" y="710.30" width="4.4" height="4.4" fill="#05399a"/>
<rect x="621.20" y="710.30" width="4.4" height="4.4" fill="#05399a"/>
<rect x="559.00" y="804.70" width="4.4" height="4.4" fill="#05399a"/>
<rect x="568.36" y="804.70" width="4.4" height="4.4" fill="#05399a"/>
<rect x="577.71" y="804.70" width="4.4" height="4.4" fill="#05399a"/>
<rect x="587.07" y="804.70" width="4.4" height="4.4" fill="#05399a"/>
<rect x="596.43" y="804.70" width="4.4" height="4.4" fill="#05399a"/>
<rect x="605.79" y="804.70" width="4.4" height="4.4" fill="#05399a"/>
<rect x="615.14" y="804.70" width="4.4" height="4.4" fill="#05399a"/>
<rect x="624.50" y="804.70" width="4.4" height="4.4" fill="#05399a"/>
<g transform="translate(933.50 339.00) scale(1.0000)" fill="none" stroke="#05399a">
<circle cx="-21" cy="-16.3" r="3.8" stroke-width="3.2"/><circle cx="-6.3" cy="-5.7" r="3.8" stroke-width="3.2"/>
<path d="M-23.8 0H-19.6L-3.9 -22H-8.1Z" fill="#05399a" stroke="none"/>
</g>
<g transform="translate(915.40 385.90) scale(1.0000)" fill="none" stroke="#05399a">
<circle cx="-21" cy="-16.3" r="3.8" stroke-width="3.2"/><circle cx="-6.3" cy="-5.7" r="3.8" stroke-width="3.2"/>
<path d="M-23.8 0H-19.6L-3.9 -22H-8.1Z" fill="#05399a" stroke="none"/>
</g>
<g transform="translate(918.70 432.80) scale(1.0000)" fill="none" stroke="#05399a">
<circle cx="-21" cy="-16.3" r="3.8" stroke-width="3.2"/><circle cx="-6.3" cy="-5.7" r="3.8" stroke-width="3.2"/>
<path d="M-23.8 0H-19.6L-3.9 -22H-8.1Z" fill="#05399a" stroke="none"/>
</g>
<g transform="translate(913.50 479.70) scale(1.0000)" fill="none" stroke="#05399a">
<circle cx="-21" cy="-16.3" r="3.8" stroke-width="3.2"/><circle cx="-6.3" cy="-5.7" r="3.8" stroke-width="3.2"/>
<path d="M-23.8 0H-19.6L-3.9 -22H-8.1Z" fill="#05399a" stroke="none"/>
</g>
<g transform="translate(913.70 526.60) scale(1.0000)" fill="none" stroke="#05399a">
<circle cx="-21" cy="-16.3" r="3.8" stroke-width="3.2"/><circle cx="-6.3" cy="-5.7" r="3.8" stroke-width="3.2"/>
<path d="M-23.8 0H-19.6L-3.9 -22H-8.1Z" fill="#05399a" stroke="none"/>
</g>
<g transform="translate(913.40 573.50) scale(1.0000)" fill="none" stroke="#05399a">
<circle cx="-21" cy="-16.3" r="3.8" stroke-width="3.2"/><circle cx="-6.3" cy="-5.7" r="3.8" stroke-width="3.2"/>
<path d="M-23.8 0H-19.6L-3.9 -22H-8.1Z" fill="#05399a" stroke="none"/>
</g>
<g transform="translate(913.70 620.40) scale(1.0000)" fill="none" stroke="#05399a">
<circle cx="-21" cy="-16.3" r="3.8" stroke-width="3.2"/><circle cx="-6.3" cy="-5.7" r="3.8" stroke-width="3.2"/>
<path d="M-23.8 0H-19.6L-3.9 -22H-8.1Z" fill="#05399a" stroke="none"/>
</g>
<g transform="translate(893.00 667.30) scale(1.0000)" fill="none" stroke="#05399a">
<circle cx="-21" cy="-16.3" r="3.8" stroke-width="3.2"/><circle cx="-6.3" cy="-5.7" r="3.8" stroke-width="3.2"/>
<path d="M-23.8 0H-19.6L-3.9 -22H-8.1Z" fill="#05399a" stroke="none"/>
</g>
<g transform="translate(862.30 268.00) scale(0.6818)" fill="none" stroke="#850010">
<circle cx="-21" cy="-16.3" r="3.8" stroke-width="3.2"/><circle cx="-6.3" cy="-5.7" r="3.8" stroke-width="3.2"/>
<path d="M-23.8 0H-19.6L-3.9 -22H-8.1Z" fill="#850010" stroke="none"/>
</g>
<path d="M247.20 365.50L251.80 363.90H258.00V385.90H251.80V368.90L248.00 369.80Z" fill="#05399a"/>
<path d="M247.00 553.10L251.60 551.50H257.80V573.50H251.60V556.50L247.80 557.40Z" fill="#05399a"/>
<path d="M844.80 412.40L849.40 410.80H855.60V432.80H849.40V415.80L845.60 416.70Z" fill="#05399a"/>
<path d="M858.40 412.40L863.00 410.80H869.20V432.80H863.00V415.80L859.20 416.70Z" fill="#05399a"/>
<path d="M650.40 788.20L655.00 786.60H661.20V808.60H655.00V791.60L651.20 792.50Z" fill="#05399a"/>
<path d="M867.01 706.60L866.14 713.00L869.86 713.00L868.99 706.60ZM867.50 707.46L872.61 711.41L874.47 708.19L868.50 705.74ZM868.50 707.46L874.47 705.01L872.61 701.79L867.50 705.74ZM868.99 706.60L869.86 700.20L866.14 700.20L867.01 706.60ZM868.50 705.74L863.39 701.79L861.53 705.01L867.50 707.46ZM867.50 705.74L861.53 708.19L863.39 711.41L868.50 707.46Z" fill="#05399a"/><circle cx="868" cy="706.6" r="1.65" fill="#05399a"/>
<path d="M867.01 800.60L866.14 807.00L869.86 807.00L868.99 800.60ZM867.50 801.46L872.61 805.41L874.47 802.19L868.50 799.74ZM868.50 801.46L874.47 799.01L872.61 795.79L867.50 799.74ZM868.99 800.60L869.86 794.20L866.14 794.20L867.01 800.60ZM868.50 799.74L863.39 795.79L861.53 799.01L867.50 801.46ZM867.50 799.74L861.53 802.19L863.39 805.41L868.50 801.46Z" fill="#05399a"/><circle cx="868" cy="800.6" r="1.65" fill="#05399a"/>
<path d="M265.31 698.30L264.53 703.90L267.87 703.90L267.09 698.30ZM265.75 699.07L270.21 702.55L271.89 699.65L266.65 697.53ZM266.65 699.07L271.89 696.95L270.21 694.05L265.75 697.53ZM267.09 698.30L267.87 692.70L264.53 692.70L265.31 698.30ZM266.65 697.53L262.19 694.05L260.51 696.95L265.75 699.07ZM265.75 697.53L260.51 699.65L262.19 702.55L266.65 699.07Z" fill="#05399a"/><circle cx="266.2" cy="698.3" r="1.49" fill="#05399a"/>
<path d="M278.41 698.30L277.63 703.90L280.97 703.90L280.19 698.30ZM278.85 699.07L283.31 702.55L284.99 699.65L279.75 697.53ZM279.75 699.07L284.99 696.95L283.31 694.05L278.85 697.53ZM280.19 698.30L280.97 692.70L277.63 692.70L278.41 698.30ZM279.75 697.53L275.29 694.05L273.61 696.95L278.85 699.07ZM278.85 697.53L273.61 699.65L275.29 702.55L279.75 699.07Z" fill="#05399a"/><circle cx="279.3" cy="698.3" r="1.49" fill="#05399a"/>
<g fill="none" stroke="#05399a" stroke-width="1.5" stroke-linecap="round" stroke-linejoin="round">
<path d="M71.6 850.5H85.6M74.8 850.5V858.6L66.6 878Q65.6 880.6 68.4 880.6H89.2Q92 880.6 91 878L82.6 858.6V850.5"/>
<path d="M73.1 862.6H78M71.6 866.2H76.6M70.3 869.4H75M68.8 873H73.8"/>
</g>
<path d="M358.34 853.22A18.0 18.0 0 0 1 327.26 871.38Z M355.32 854.98A14.5 14.5 0 0 1 330.28 869.62M342.8 862.3L356.83 865.98M342.8 862.3L350.12 874.82M342.8 862.3L339.12 876.33" fill="none" stroke="#05399a" stroke-width="1.8" stroke-linejoin="round"/>
</svg>
</body></html>
